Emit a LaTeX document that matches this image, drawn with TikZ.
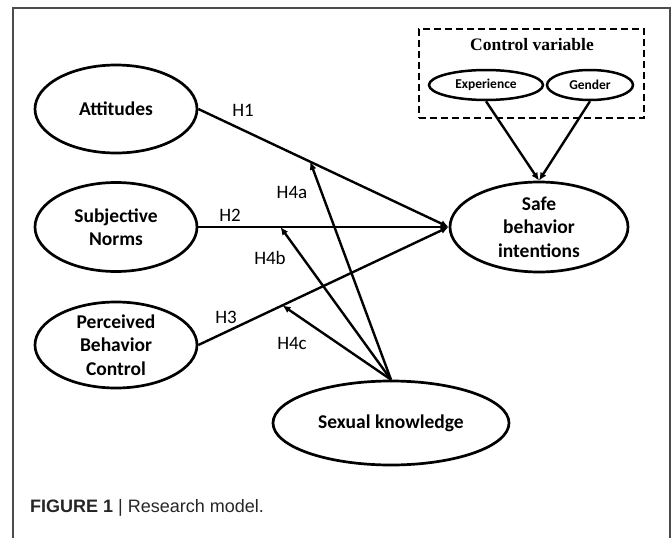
\documentclass[tikz,border=0pt]{standalone}
\usepackage{fontspec}
\setmainfont{Carlito}
\newfontfamily\capfont{Liberation Sans}
\newfontfamily\serfont{Liberation Serif}
\usetikzlibrary{shapes.geometric,arrows.meta}
\begin{document}
\begin{tikzpicture}[x=1pt,y=-1pt,
  var/.style={draw,ellipse,line width=2.7pt,inner sep=0pt,align=center,
    font=\fontsize{19.5}{23.5}\selectfont\bfseries},
  smallvar/.style={draw,ellipse,line width=2.5pt,inner sep=0pt,
    font=\fontsize{13.5}{16}\selectfont\bfseries},
  path/.style={line width=2.4pt,-{Latex[length=8pt,width=7pt]}},
  hlab/.style={font=\fontsize{19}{22}\selectfont},
  frameline/.style={line width=1.6pt,black!70}]
\useasboundingbox (0,0) rectangle (672,538);
\draw[frameline] (13,538) -- (13,8) -- (670,8) -- (670,538);

\node[var,minimum width=162pt,minimum height=88pt] (att) at (116,109) {Attitudes};
\node[var,minimum width=162pt,minimum height=89pt] (sn) at (116,227) {Subjective\\Norms};
\node[var,minimum width=162pt,minimum height=86pt] (pbc) at (116,345) {Perceived\\Behavior\\Control};
\node[var,minimum width=236pt,minimum height=84pt] (sk) at (391,423) {Sexual knowledge};
\node[var,minimum width=178pt,minimum height=90pt] (sbi) at (539,227) {Safe\\behavior\\intentions};

\node[draw,line width=2.7pt,dash pattern=on 7pt off 4pt,minimum width=225pt,minimum height=89pt,inner sep=0pt] (cbox) at (531.5,73.5) {};
\node[font=\serfont\fontsize{17.5}{20}\selectfont\bfseries] (ctitle) at (532,45) {Control variable};
\node[smallvar,minimum width=114pt,minimum height=30pt] (exp) at (486,85) {Experience};
\node[smallvar,minimum width=86pt,minimum height=30pt] (gen) at (590,85) {Gender};

\draw[path] (att.east) -- coordinate[pos=0.447] (m1) (sbi.west);
\draw[path] (sn.east) -- coordinate[pos=0.328] (m2) (sbi.west);
\draw[path] (pbc.east) -- coordinate[pos=0.336] (m3) (sbi.west);
\draw[path] (sk.north) -- (m1);
\draw[path] (sk.north) -- (m2);
\draw[path] (sk.north) -- (m3);
\draw[path] (exp.south) -- (sbi.north);
\draw[path] (gen.south) -- (sbi.north);

\node[hlab] (h1) at (243,110) {H1};
\node[hlab] (h2) at (230,215) {H2};
\node[hlab] (h3) at (226,317) {H3};
\node[hlab] (h4a) at (292,192) {H4a};
\node[hlab] (h4b) at (270,258) {H4b};
\node[hlab] (h4c) at (292,343) {H4c};

\node[anchor=base west,inner sep=0pt,font=\capfont\fontsize{18}{22}\selectfont,text=black!85] (cap) at (30,512) {\textbf{FIGURE 1} | Research model.};
\end{tikzpicture}
\end{document}
